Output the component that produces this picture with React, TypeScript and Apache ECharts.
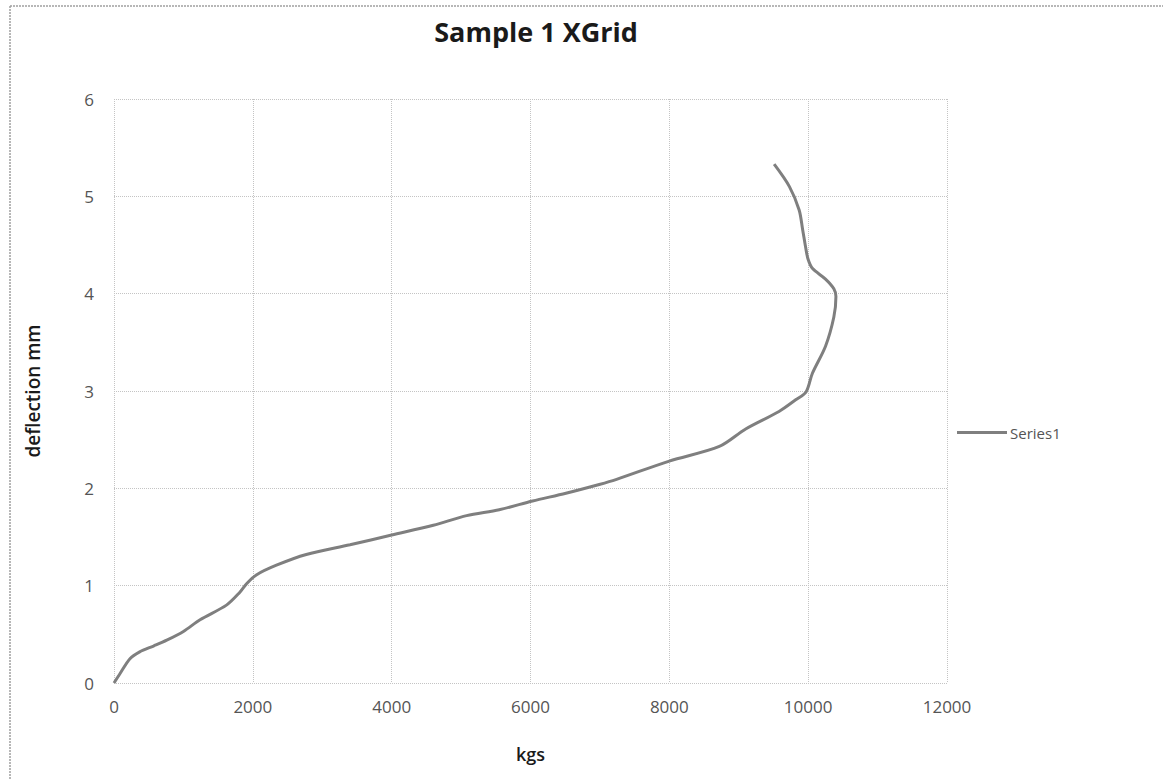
import React, { useEffect, useRef } from "react";
import * as echarts from "echarts";

const chartTitle = "Sample 1 XGrid";
const xAxisName = "kgs";
const yAxisName = "deflection mm";
const seriesName = "Series1";

// load (kgs) values, in drawing order
const loadKgs = [
  0, 90, 230, 370, 570, 760, 1000, 1240, 1620, 1810, 1910, 2050, 2340, 2770,
  3400, 4000, 4600, 5080, 5550, 6030, 6510, 6990, 7230, 8000, 8720, 9100,
  9580, 9820, 9970, 10060, 10250, 10370, 10400, 10370, 10250, 10060, 10000,
  9970, 9920, 9870, 9730, 9510,
];
// deflection (mm) values, matching loadKgs
const deflectionMm = [
  0, 0.1, 0.25, 0.32, 0.38, 0.44, 0.53, 0.65, 0.8, 0.93, 1.02, 1.11, 1.21,
  1.32, 1.42, 1.52, 1.62, 1.72, 1.78, 1.87, 1.95, 2.04, 2.09, 2.28, 2.43,
  2.61, 2.79, 2.91, 2.99, 3.18, 3.46, 3.76, 3.97, 4.05, 4.15, 4.26, 4.35,
  4.45, 4.66, 4.86, 5.1, 5.33,
];

const xMin = 0;
const xMax = 12000;
const xStep = 2000;
const yMin = 0;
const yMax = 6;
const yStep = 1;

export default function App() {
  const ref = useRef<HTMLDivElement>(null);

  useEffect(() => {
    if (!ref.current) return;
    const chart = echarts.init(ref.current, undefined, { renderer: "svg" });
    const points = loadKgs.map((x, i) => [x, deflectionMm[i]]);
    const font = "'Open Sans', 'Liberation Sans', sans-serif";
    const gridLine = { show: true, lineStyle: { color: "#c4c4c4", type: "dotted" as const, width: 1 } };
    chart.setOption({
      animation: false,
      backgroundColor: "#ffffff",
      title: {
        text: chartTitle,
        left: 531,
        top: 13,
        textAlign: "center",
        textStyle: { fontFamily: font, fontSize: 27, fontWeight: "bold", color: "#1a1a1a" },
      },
      legend: {
        left: 952,
        top: 420,
        icon: "rect",
        itemWidth: 50,
        itemHeight: 3,
        itemGap: 4,
        textStyle: { fontFamily: font, fontSize: 15, color: "#555555", padding: [0, 0, 0, -2] },
        data: [seriesName],
      },
      grid: { left: 114, right: 216, top: 99, bottom: 96, containLabel: false },
      xAxis: {
        type: "value",
        min: xMin,
        max: xMax,
        interval: xStep,
        name: xAxisName,
        nameLocation: "middle",
        nameGap: 62,
        nameTextStyle: { fontFamily: font, fontSize: 18, fontWeight: 600, color: "#1a1a1a" },
        axisLine: { show: false },
        axisTick: { show: false },
        axisLabel: { fontFamily: font, fontSize: 17, color: "#555555", margin: 15, formatter: (v: number) => String(v) },
        splitLine: gridLine,
      },
      yAxis: {
        type: "value",
        min: yMin,
        max: yMax,
        interval: yStep,
        name: yAxisName,
        nameLocation: "middle",
        nameGap: 72,
        nameRotate: 90,
        nameTextStyle: { fontFamily: font, fontSize: 19, fontWeight: 600, color: "#1a1a1a" },
        axisLine: { show: false },
        axisTick: { show: false },
        axisLabel: { fontFamily: font, fontSize: 17, color: "#555555", margin: 20, formatter: (v: number) => String(v) },
        splitLine: gridLine,
      },
      graphic: [
        { type: "line", shape: { x1: 10, y1: 6, x2: 1163, y2: 6 }, style: { stroke: "#a0a0a0", lineWidth: 1.5, lineDash: [2, 1] } },
        { type: "line", shape: { x1: 10, y1: 6, x2: 10, y2: 779 }, style: { stroke: "#a0a0a0", lineWidth: 1.5, lineDash: [2, 1] } },
      ],
      series: [
        {
          name: seriesName,
          type: "line",
          data: points,
          showSymbol: false,
          smooth: 0.3,
          lineStyle: { color: "#7f7f7f", width: 3 },
          itemStyle: { color: "#7f7f7f" },
        },
      ],
    });
    return () => chart.dispose();
  }, []);

  return <div ref={ref} style={{ width: 1163, height: 779, position: "absolute", left: 0, top: 0 }} />;
}
